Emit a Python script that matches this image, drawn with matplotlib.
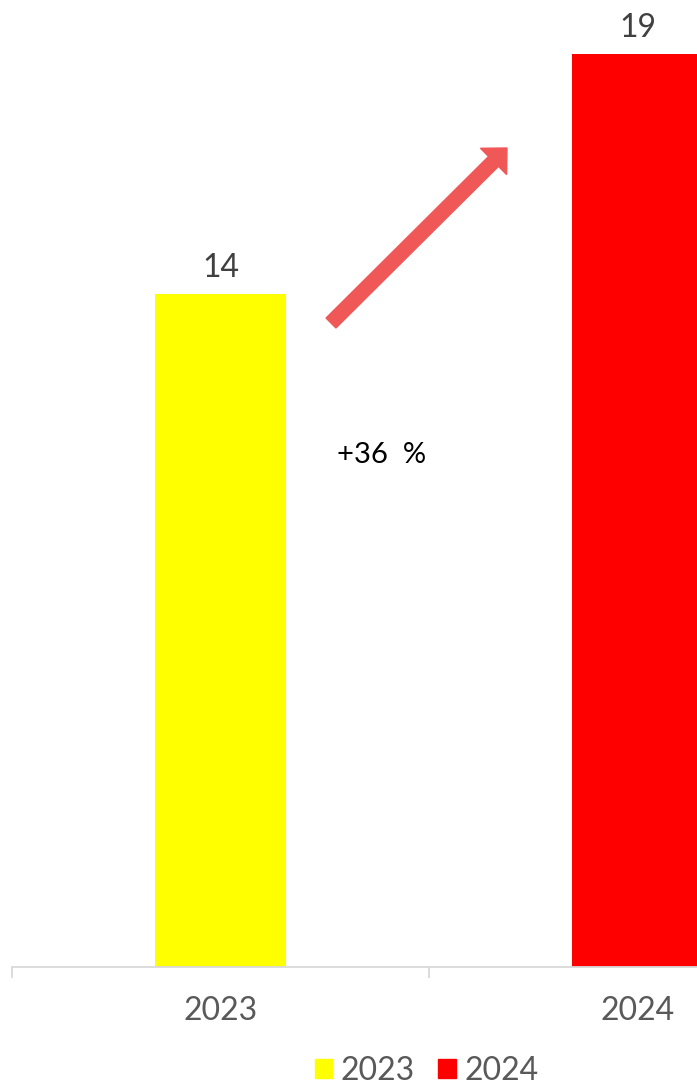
"""
Bar chart 2023 vs 2024 with growth arrow
"""

import matplotlib.pyplot as plt
from matplotlib.patches import FancyArrow, Patch

plt.rcParams['font.family'] = ['Lato', 'DejaVu Sans']

# data
years = ['2023', '2024']
values = [14, 19]
colors = ['#ffff00', '#ff0000']
growth_label = '+36  %'

grey = '#595959'
axis_grey = '#d9d9d9'

# figure is a crop of a wider chart, so the axes run past the right edge
fig = plt.figure(figsize=(6.97, 10.85), dpi=100)
ax = fig.add_axes([12 / 697, 118 / 1085, 834 / 697, 961 / 1085])

bars = ax.bar(years, values, width=0.314, color=colors)
ax.bar_label(bars, padding=8, fontsize=23, color='#404040')

ax.set_xlim(-0.5, 1.5)
ax.set_ylim(0, 20)

for side in ['top', 'right', 'left']:
    ax.spines[side].set_visible(False)
ax.spines['bottom'].set_color(axis_grey)
ax.spines['bottom'].set_linewidth(1.3)
ax.set_yticks([])

ax.set_xticks([-0.5, 0.5, 1.5], minor=True)
ax.tick_params(axis='x', which='major', length=0, pad=21, labelsize=23, labelcolor=grey)
ax.tick_params(axis='x', which='minor', length=8, width=1.3, color=axis_grey)

# growth arrow and label (placed in figure inches)
arrow = FancyArrow(3.31, 10.85 - 3.23, 1.76, 1.75, width=0.14, head_width=0.37,
                   head_length=0.19, length_includes_head=True,
                   color='#f05757', transform=fig.dpi_scale_trans)
fig.patches.append(arrow)
fig.text(3.82 / 6.97, 1 - 4.55 / 10.85, growth_label, ha='center', va='center',
         fontsize=21, color='black')

handles = [Patch(color=c, label=y) for c, y in zip(colors, years)]
ax.legend(handles=handles, loc='center', bbox_to_anchor=(0.497, -0.108), ncol=2,
          frameon=False, fontsize=23, labelcolor=grey, handlelength=0.55,
          handleheight=0.55, handletextpad=0.25, columnspacing=0.75)

fig.savefig('out.png', dpi=100)
